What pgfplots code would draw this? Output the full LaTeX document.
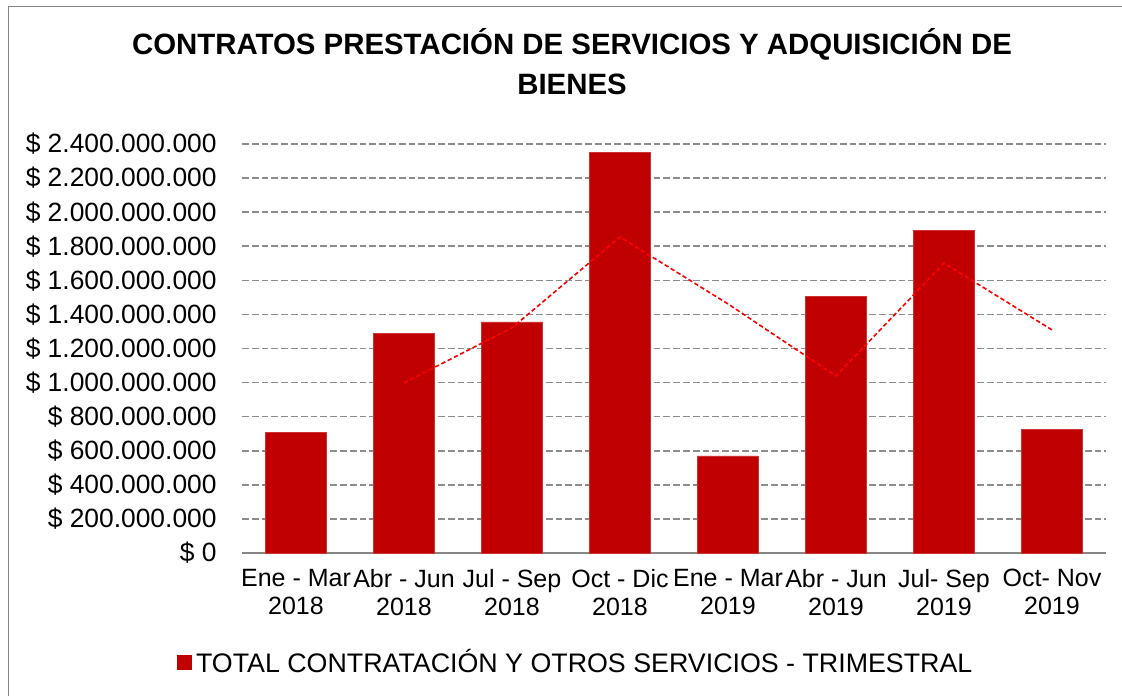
\documentclass[border=0pt]{standalone}
\usepackage{pgfplots}
\pgfplotsset{compat=1.18}
\usepackage{fontspec}
\setmainfont{Liberation Sans}
\definecolor{barred}{HTML}{C00000}
\definecolor{maline}{HTML}{FF0000}
\definecolor{gridgray}{HTML}{8C8C8C}
\definecolor{framegray}{HTML}{868686}
\begin{document}
\begin{tikzpicture}
% 1px of the reference = 0.5pt, origin at the south west corner of the plot area
\useasboundingbox (-121pt,-71.5pt) rectangle (440pt,276.5pt);
\draw[framegray, line width=0.7pt] (-116.75pt,-71.5pt) -- (-116.75pt,273.25pt) -- (440pt,273.25pt);
\begin{axis}[
  at={(0,0)}, anchor=south west,
  scale only axis,
  width=432pt, height=204.5pt,
  ybar, bar width=30.7pt,
  xmin=-0.5, xmax=7.5,
  ymin=0, ymax=2400000000,
  ytick={0,200000000,400000000,600000000,800000000,1000000000,1200000000,1400000000,1600000000,1800000000,2000000000,2200000000,2400000000},
  yticklabels={\$ 0,\$ 200.000.000,\$ 400.000.000,\$ 600.000.000,\$ 800.000.000,\$ 1.000.000.000,\$ 1.200.000.000,\$ 1.400.000.000,\$ 1.600.000.000,\$ 1.800.000.000,\$ 2.000.000.000,\$ 2.200.000.000,\$ 2.400.000.000},
  xtick={0,...,7},
  xticklabels={Ene - Mar\\2018,Abr - Jun\\2018,Jul - Sep\\2018,Oct - Dic\\2018,Ene - Mar\\2019,Abr - Jun\\2019,Jul- Sep\\2019,Oct- Nov\\2019},
  scaled y ticks=false,
  major tick length=0pt,
  ymajorgrids,
  grid style={gridgray, line width=0.75pt, dash pattern=on 3.4pt off 1.5pt},
  axis x line*=bottom,
  axis y line*=left,
  x axis line style={framegray, line width=0.8pt, -},
  y axis line style={draw=none},
  xticklabel style={font=\fontsize{12.5}{13.9}\selectfont, align=center, anchor=north, inner sep=0pt, yshift=-8pt},
  yticklabel style={font=\fontsize{13.2}{14}\selectfont, anchor=east, inner sep=0pt, xshift=-12.5pt},
  legend style={at={(-0.0752,-0.2665)}, anchor=west, draw=none, inner sep=0pt,
    font=\fontsize{13.4}{14}\selectfont},
  legend image code/.code={\fill[barred] (0pt,-3.5pt) rectangle (7pt,3.5pt);},
  legend cell align=left,
]
\addplot[fill=barred, draw=barred!80!white, line width=0.3pt] coordinates {
  (0,709000000) (1,1287000000) (2,1356000000) (3,2353000000)
  (4,570000000) (5,1507000000) (6,1895000000) (7,723000000)};
\addlegendentry{TOTAL CONTRATACIÓN Y OTROS SERVICIOS - TRIMESTRAL}
\addplot[sharp plot, maline, line width=0.8pt, dash pattern=on 2.2pt off 1.3pt, forget plot] coordinates {
  (1,998000000) (2,1321500000) (3,1854500000) (4,1461500000)
  (5,1038500000) (6,1701000000) (7,1309000000)};
\end{axis}
\node[anchor=base, font=\fontsize{14.7}{18}\selectfont\bfseries] at (165pt,249pt) {CONTRATOS PRESTACIÓN DE SERVICIOS Y ADQUISICIÓN DE};
\node[anchor=base, font=\fontsize{14.7}{18}\selectfont\bfseries] at (165pt,229pt) {BIENES};
\end{tikzpicture}
\end{document}
